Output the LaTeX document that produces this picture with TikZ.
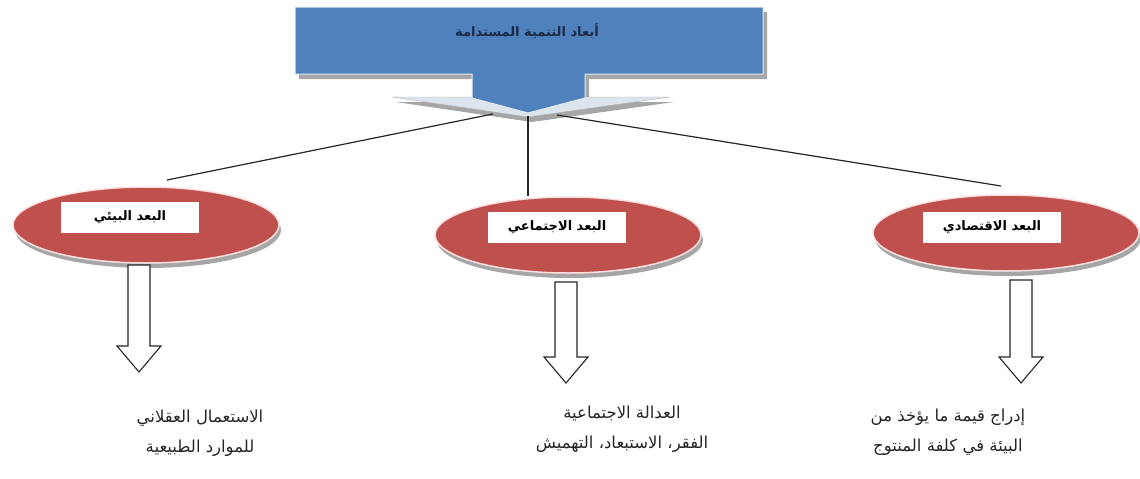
\documentclass[tikz,border=0pt]{standalone}
\usepackage{fontspec}
\newfontfamily\arabicfont[Script=Arabic]{DejaVu Sans}
\TeXXeTstate=1
\usetikzlibrary{shapes.geometric}
\definecolor{topblue}{HTML}{4F81BD}
\definecolor{dimred}{HTML}{C0504D}
\definecolor{titleblue}{HTML}{1B2A47}
\definecolor{wingcol}{HTML}{DCE4EE}

\begin{document}
\begin{tikzpicture}[x=1pt,y=-1pt,
  dim/.style={ellipse,fill=dimred,draw=red!12,line width=1.5pt,minimum width=266pt,minimum height=76pt,inner sep=0pt},
  dimshadow/.style={ellipse,fill=black!35,minimum width=266pt,minimum height=76pt,inner sep=0pt},
  tag/.style={fill=white,minimum width=138pt,minimum height=31pt,inner sep=0pt,font=\arabicfont\bfseries\fontsize{13}{15}\selectfont},
  goal/.style={align=center,font=\arabicfont\fontsize{16.5}{30}\selectfont,text=black!85},
  hollow/.style={draw=black!85,fill=white,line width=1.1pt,line join=miter},
  link/.style={draw=black!85,line width=1.2pt}]
\useasboundingbox (0,0) rectangle (1140,479);

% title callout
\fill[black!35,shift={(4,5)}] (295,7) -- (763,7) -- (763,74) -- (585,74) -- (585,97) -- (670,97)
  -- (528,117) -- (392,97) -- (472,97) -- (472,74) -- (295,74) -- cycle;
\filldraw[fill=wingcol,draw=black!30] (392,97) -- (670,97) -- (528,117) -- cycle;
\filldraw[fill=topblue,draw=white!85!topblue,line width=1pt] (295,7) -- (763,7) -- (763,74) -- (585,74)
  -- (585,98) -- (528,113) -- (472,98) -- (472,74) -- (295,74) -- cycle;
\node[font=\arabicfont\bfseries\fontsize{13}{15}\selectfont,text=titleblue] (title) at (527,31)
  {\beginR أبعاد التنمية المستدامة\endR};

\coordinate (hubL) at (493,114);
\coordinate (hub) at (528,116);
\coordinate (hubR) at (557,115);
\coordinate (endL) at (167,180);
\coordinate (endR) at (1001,186);

% the three dimensions
\foreach \x/\y in {146/225, 568/235, 1006/233}
  \node[dimshadow] at (\x+2,\y+5) {};
\node[dim] (env) at (146,225) {};
\node[dim] (soc) at (568,235) {};
\node[dim] (eco) at (1006,233) {};

\draw[link] (hubL) -- (endL);
\draw[link] (hub) -- (hub |- soc.north);
\draw[link] (hubR) -- (endR);

\node[tag] (envtag) at (130,217) {\beginR البعد البيئي\endR};
\node[tag] (soctag) at (557,227) {\beginR البعد الاجتماعي\endR};
\node[tag] (ecotag) at (992,227) {\beginR البعد الاقتصادي\endR};

% hollow arrows
\foreach \x/\ya/\yb in {139/265/372, 566/282/383, 1021/280/383}
  \draw[hollow] (\x-11,\ya) -- (\x-11,\yb-26) -- (\x-22,\yb-26) -- (\x,\yb)
    -- (\x+22,\yb-26) -- (\x+11,\yb-26) -- (\x+11,\ya) -- cycle;

\node[goal] (envgoal) at (200,433) {\beginR الاستعمال العقلاني\endR\\\beginR للموارد الطبيعية\endR};
\node[goal] (socgoal) at (622,429) {\beginR العدالة الاجتماعية\endR\\\beginR الفقر، الاستبعاد، التهميش\endR};
\node[goal] (ecogoal) at (948,432) {\beginR إدراج قيمة ما يؤخذ من\endR\\\beginR البيئة في كلفة المنتوج\endR};
\end{tikzpicture}
\end{document}
